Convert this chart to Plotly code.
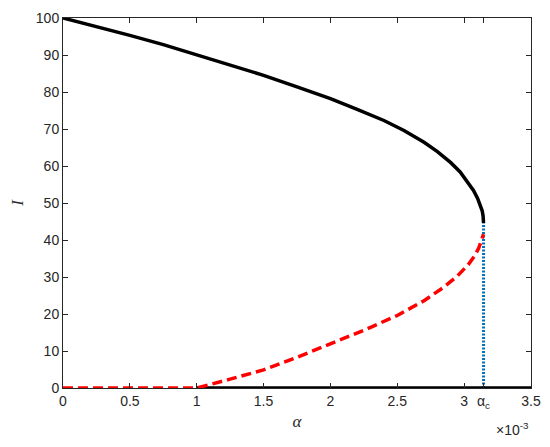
import plotly.graph_objects as go

# alpha values in units of 1e-3
alpha_c = 3.145
alpha_upper = [0, 0.25, 0.5, 0.75, 1.0, 1.25, 1.5, 1.75, 2.0, 2.2, 2.4, 2.55, 2.7, 2.8,
               2.9, 2.97, 3.03, 3.07, 3.1, 3.12, 3.135, 3.142, 3.145]
I_upper = [100, 97.7, 95.3, 92.8, 90.1, 87.3, 84.5, 81.4, 78.2, 75.3, 72.3, 69.6, 66.4, 63.9,
           60.9, 58.4, 55.6, 53.4, 51.3, 49.6, 47.9, 46.4, 44.6]

alpha_lower = [0, 0.5, 1.0, 1.25, 1.5, 1.75, 2.0, 2.25, 2.5, 2.7, 2.85, 2.95, 3.03,
               3.08, 3.11, 3.13, 3.145]
I_lower = [0, 0, 0, 2.4, 4.9, 8.3, 12.0, 15.6, 19.6, 23.6, 27.3, 30.3, 33.3,
           35.8, 37.9, 39.7, 41.6]

alpha_zero = [1.0, 3.5]
I_zero = [0, 0]

alpha_crit = [alpha_c, alpha_c]
I_crit = [0, 44.6]

x_ticks = [0, 0.5, 1.0, 1.5, 2.0, 2.5, 3.0, alpha_c, 3.5]
x_ticktext = ["0", "0.5", "1", "1.5", "2", "2.5", "3", "α<sub>c</sub>", "3.5"]
y_ticks = [0, 10, 20, 30, 40, 50, 60, 70, 80, 90, 100]

scale = 1e-3

fig = go.Figure()
fig.add_trace(go.Scatter(x=[a * scale for a in alpha_crit], y=I_crit, mode="lines",
                         line=dict(color="#0072BD", width=3, dash="2px,1.5px"),
                         cliponaxis=False, showlegend=False))
fig.add_trace(go.Scatter(x=[a * scale for a in alpha_zero], y=I_zero, mode="lines",
                         line=dict(color="black", width=3.5),
                         cliponaxis=False, showlegend=False))
fig.add_trace(go.Scatter(x=[a * scale for a in alpha_upper], y=I_upper, mode="lines",
                         line=dict(color="black", width=3.5),
                         cliponaxis=False, showlegend=False))
fig.add_trace(go.Scatter(x=[a * scale for a in alpha_lower], y=I_lower, mode="lines",
                         line=dict(color="#FF0000", width=3.5, dash="10px,5px"),
                         cliponaxis=False, showlegend=False))

axis_common = dict(showgrid=False, zeroline=False, showline=True, linecolor="#262626",
                   linewidth=1, mirror="allticks", ticks="inside", ticklen=5,
                   tickcolor="#262626", tickwidth=1, automargin=False,
                   tickfont=dict(family="Liberation Sans, Arial", size=14, color="#262626"))

# the page body adds an 8px offset; compensate so the plot area matches
fig.update_layout(
    width=542, height=439,
    margin=dict(l=55, r=19, t=10, b=59, autoexpand=False),
    paper_bgcolor="white", plot_bgcolor="white",
    xaxis=dict(range=[0, 3.5 * scale], tickvals=[t * scale for t in x_ticks],
               ticktext=x_ticktext,
               title=dict(text="<i>α</i>", standoff=5,
                          font=dict(family="Liberation Serif, Times New Roman", size=17,
                                    color="#262626")),
               **axis_common),
    yaxis=dict(range=[0, 100], tickvals=y_ticks,
               title=dict(text="<i>I</i>", standoff=12,
                          font=dict(family="Liberation Serif, Times New Roman", size=17,
                                    color="#262626")),
               **axis_common),
    annotations=[dict(text="×10<sup>-3</sup>", xref="paper", yref="paper", x=1.0, y=0,
                      xanchor="right", yanchor="top", yshift=-30, showarrow=False,
                      font=dict(family="Liberation Sans, Arial", size=14, color="#262626"))],
)

fig.write_html("out.html")
